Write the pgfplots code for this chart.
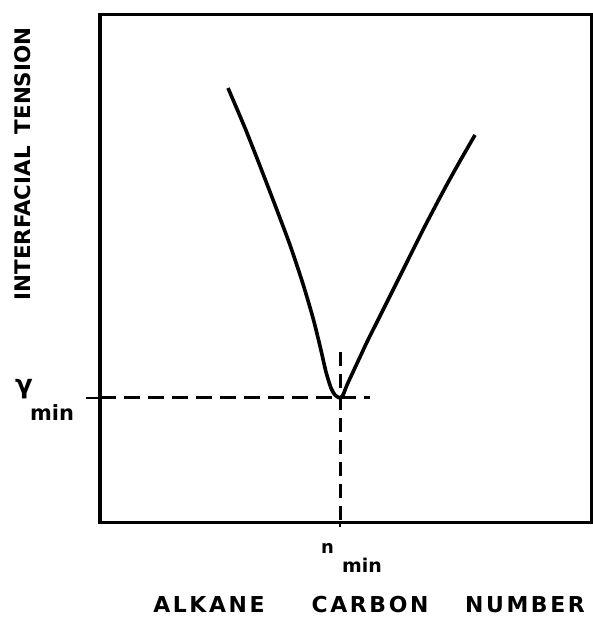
\documentclass[border=0pt]{standalone}
\usepackage{pgfplots}
\pgfplotsset{compat=1.18}
\usepackage{fontspec}
\setmainfont{DejaVu Sans}
\newfontfamily\lab[LetterSpace=12]{DejaVu Sans Bold}
\newfontfamily\labg{DejaVu Sans Bold}
\begin{document}
\begin{tikzpicture}
\begin{axis}[
  scale only axis,
  width=491bp, height=507bp,
  xmin=0, xmax=491, ymin=0, ymax=507,
  axis line style={line width=3bp},
  axis background/.style={draw=black, line width=3bp},
  xtick={240}, ytick=\empty,
  xtick pos=lower, ytick pos=left,
  xticklabels={},
  tick align=outside,
  major tick length=5bp,
  tick style={line width=2.4bp, black},
  extra y ticks={124},
  extra y tick labels={},
  extra y tick style={major tick length=14bp, tick style={line width=2.8bp, black}},
  clip=false,
]
\addplot[line width=3.6bp, smooth, tension=0.4] coordinates {
(128,434) (145,394) (160,356) (175,317) (190,277) (203,238) (213,204) (220,176) (226,150) (231,134) (235,127) (240,124)
(243,127) (247,137) (253,150) (260,165) (267,180) (280,206) (303,252) (325,296) (345,334) (360,361) (375,387)
};
\addplot[line width=3bp, dash pattern=on 16bp off 8bp] coordinates {(0,124) (270,124)};
\addplot[line width=3bp, dash pattern=on 14bp off 8bp] coordinates {(240,170) (240,0)};
\coordinate (bbll) at (axis cs:-100,-97);
\coordinate (bbur) at (axis cs:493,522);
\node[font=\lab\fontsize{22}{24}\selectfont, anchor=base] at (axis cs:109,-90) {ALKANE};
\node[font=\lab\fontsize{22}{24}\selectfont, anchor=base] at (axis cs:270,-90) {CARBON};
\node[font=\lab\fontsize{22}{24}\selectfont, anchor=base] at (axis cs:425,-90) {NUMBER};
\node[font=\labg\fontsize{21.5}{24}\selectfont, rotate=90, anchor=center] at (axis cs:-77.5,358) {INTERFACIAL\hspace{12bp}TENSION};
\node[font=\labg\fontsize{26}{28}\selectfont, anchor=center] at (axis cs:-76,133) {γ};
\node[font=\labg\fontsize{21}{23}\selectfont, anchor=center] at (axis cs:-48,109) {min};
\node[font=\labg\fontsize{18}{20}\selectfont, anchor=center] at (axis cs:227.5,-26) {n};
\node[font=\labg\fontsize{19}{21}\selectfont, anchor=center] at (axis cs:262,-43) {min};
\end{axis}
\pgfresetboundingbox
\path[use as bounding box] (bbll) rectangle (bbur);
\end{tikzpicture}
\end{document}
